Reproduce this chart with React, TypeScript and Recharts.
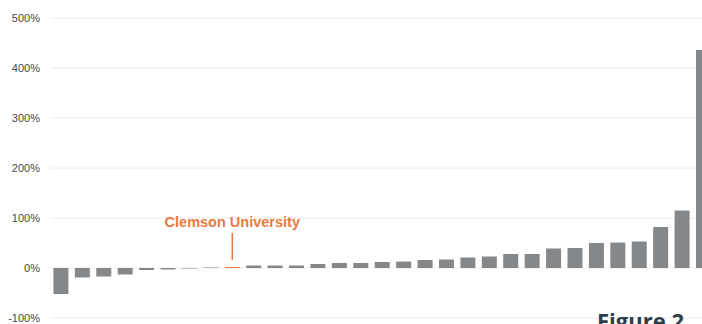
import { BarChart, Bar, XAxis, YAxis, CartesianGrid, Cell, LabelList } from 'recharts'

// schools ranked by change, Clemson highlighted
const schools = [
  'School A', 'School B', 'School C', 'School D', 'School E', 'School F', 'School G', 'School H',
  'Clemson University', 'School J', 'School K', 'School L', 'School M', 'School N', 'School O',
  'School P', 'School Q', 'School R', 'School S', 'School T', 'School U', 'School V', 'School W',
  'School X', 'School Y', 'School Z', 'School AA', 'School AB', 'School AC', 'School AD', 'School AE',
]
const change = [
  -52, -19, -17, -13, -4, -3, -1, 1, 2, 5, 5, 5, 8, 10, 10, 12, 13, 16, 17, 21, 23, 28, 28,
  39, 40, 50, 51, 53, 82, 115, 436,
]
const yTicks = [-100, 0, 100, 200, 300, 400, 500]
const highlight = 'Clemson University'

const GRAY = '#85888b'
const ORANGE = '#ea7a3f'

const data = schools.map((name, i) => ({ name, change: change[i] }))

function HighlightLabel(props: any) {
  const { x, y, width, index } = props
  if (schools[index] !== highlight) return null
  const cx = x + width / 2
  return (
    <g>
      <line x1={cx} x2={cx} y1={y - 7} y2={y - 34} stroke={ORANGE} strokeWidth={1.5} />
      <text
        x={cx}
        y={y - 40}
        textAnchor="middle"
        fill={ORANGE}
        fontSize={14.5}
        fontWeight="bold"
        fontFamily="'Liberation Sans', Arial, sans-serif"
      >
        {highlight}
      </text>
    </g>
  )
}

export default function App() {
  return (
    <div
      style={{
        position: 'absolute',
        top: 0,
        left: 0,
        width: 702,
        height: 324,
        overflow: 'hidden',
        background: '#fff',
      }}
    >
      <BarChart
        width={714}
        height={324}
        data={data}
        margin={{ top: 18, right: 0, bottom: 6, left: 0 }}
        barCategoryGap="16%"
      >
        <CartesianGrid vertical={false} stroke="#ececec" />
        <XAxis dataKey="name" hide />
        <YAxis
          domain={[-100, 500]}
          ticks={yTicks}
          width={50}
          axisLine={false}
          tickLine={false}
          tickSize={8}
          tickMargin={2}
          tickFormatter={(v: number) => `${v}%`}
          tick={{ fontSize: 11, fill: '#4a4a4a', fontFamily: "'Liberation Sans', Arial, sans-serif" }}
        />
        <Bar dataKey="change" isAnimationActive={false}>
          {data.map((d) => (
            <Cell key={d.name} fill={d.name === highlight ? ORANGE : GRAY} />
          ))}
          <LabelList dataKey="change" content={HighlightLabel} />
        </Bar>
      </BarChart>
      <div
        style={{
          position: 'absolute',
          left: 597,
          top: 309,
          fontFamily: "'Open Sans', sans-serif",
          fontWeight: 700,
          fontSize: 22,
          lineHeight: 1,
          color: '#2f3d4a',
          whiteSpace: 'nowrap',
        }}
      >
        Figure 2
      </div>
    </div>
  )
}
